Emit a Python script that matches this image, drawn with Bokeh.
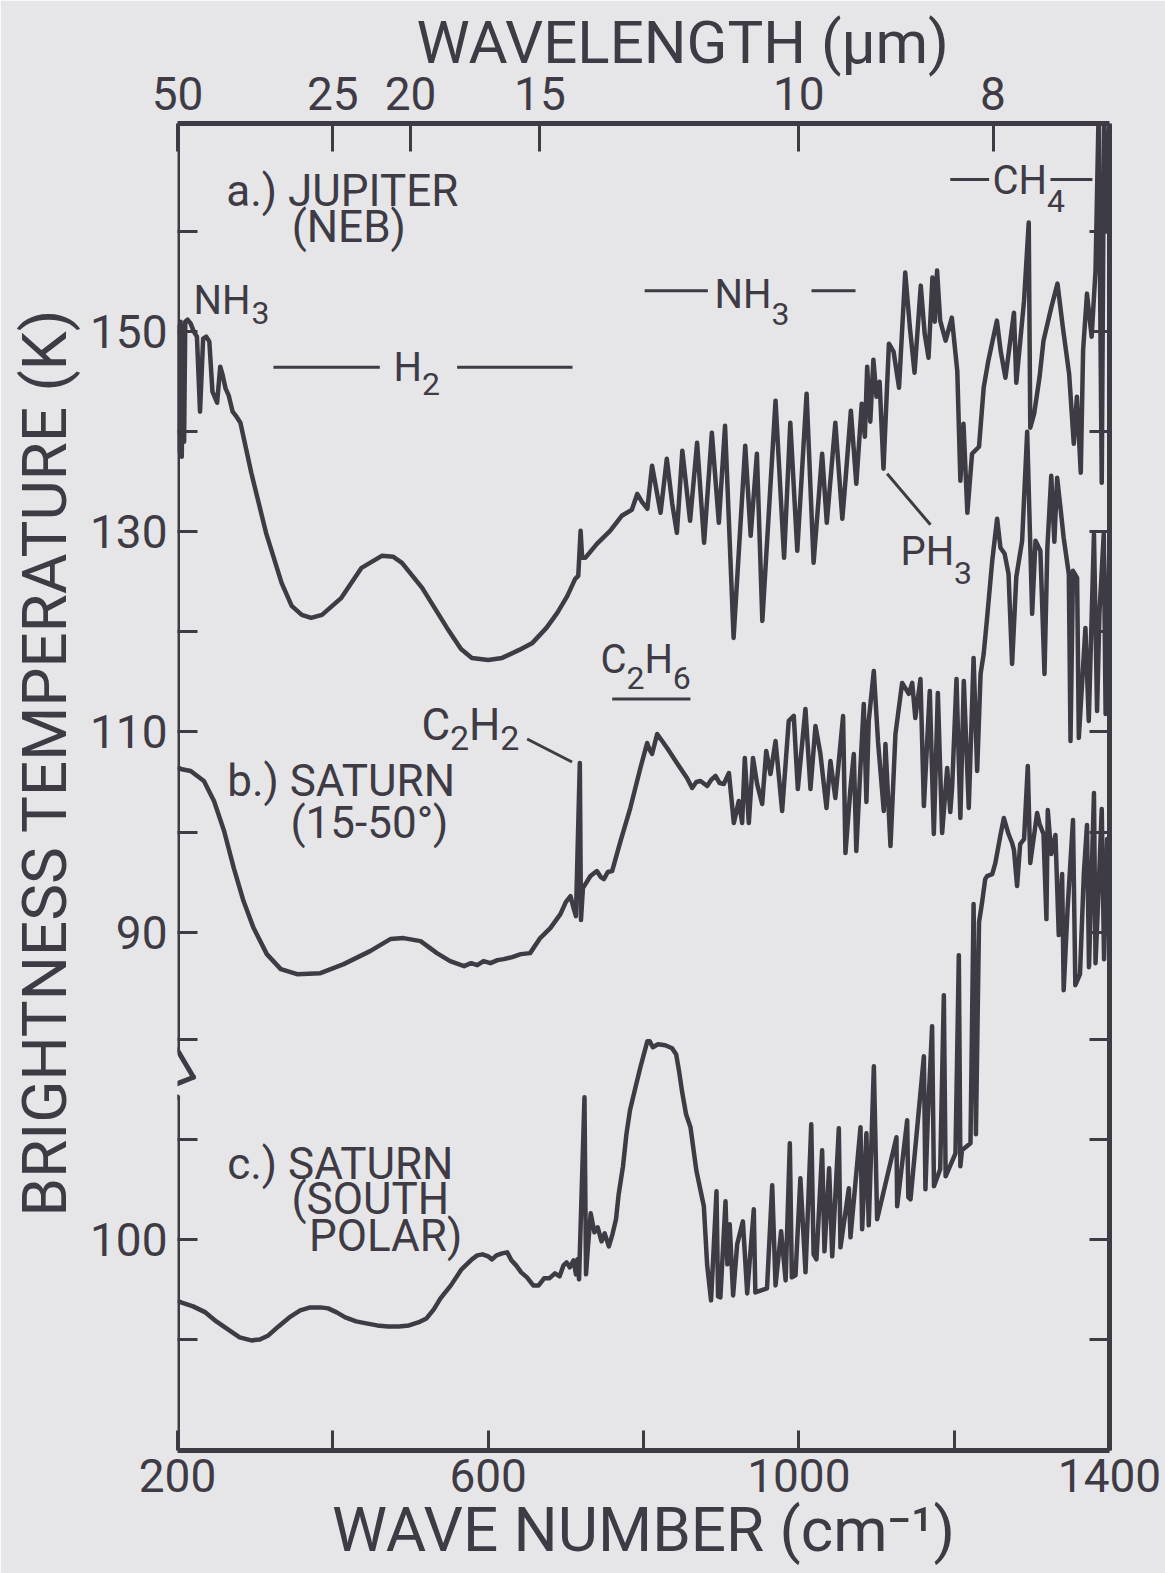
import math
from bokeh.plotting import figure
from bokeh.models import (Range1d, LinearAxis, FixedTicker, Arrow, Title,
                          ColumnDataSource)
from bokeh.core.properties import value
from bokeh.embed import file_html
from bokeh.resources import INLINE

# ---------------------------------------------------------------- data
# wave number (cm^-1), brightness temperature (K)
JUPITER_NEB = [
    (200, 141), (201, 150.5), (202.5, 138), (204, 151), (205.5, 137.5),
    (207, 150.5), (208.5, 139), (210, 151), (213, 151.2), (217, 150.8),
    (221, 150), (225, 149.5), (229, 142), (233, 149.3), (237, 149.5),
    (241, 149), (245, 144), (251, 142.9), (255, 146.5), (258, 145.7),
    (262, 144.3), (266, 143.6), (271, 142), (276, 141.5), (281, 140.9),
    (295, 135.9), (314, 129.9), (334, 124.9), (347, 122.6), (360, 121.7),
    (372, 121.4), (386, 121.7), (411, 123.4), (437, 126.4), (463, 127.6),
    (478, 127.5), (489, 126.9), (515, 124.4), (547, 120.4), (565, 118.3),
    (579, 117.4), (600, 117.2), (618, 117.4), (640, 118.2), (657, 118.9),
    (675, 120.4), (689, 121.9), (702, 123.6), (712, 125.3), (716, 125.6),
    (719, 130.1), (721, 127.4), (725, 127.4), (740, 128.8), (757, 130.1),
    (772, 131.6), (785, 132.2), (792, 133.8), (798, 133.0), (805, 132.3),
    (811, 136.6), (822, 131.9), (830, 137.3), (837, 132.8), (843, 129.9),
    (850, 138.1), (860, 131.1), (869, 138.9), (878, 128.9), (888, 139.9),
    (897, 130.9), (905, 140.6), (916, 119.4), (931, 138.6), (938, 129.6),
    (946, 137.8), (953, 121.1), (970, 143.1), (981, 127.4), (989, 140.9),
    (998, 128.1), (1010, 143.8), (1019, 126.9), (1030, 137.8), (1036, 130.9),
    (1047, 140.9), (1056, 131.3), (1060, 135.1), (1067, 142.1), (1074, 134.8),
    (1081, 142.8), (1085, 139.5), (1088, 146.5), (1092, 141), (1096, 147.2),
    (1100, 143.5), (1104, 145), (1109, 136.3), (1116, 148.8), (1122, 148.0),
    (1129, 144.4), (1137, 155.9), (1143, 150.4), (1149, 145.9), (1157, 154.6),
    (1162, 149.8), (1167, 147.4), (1172, 155.4), (1175, 151.0), (1178, 156.1),
    (1182, 151.1), (1189, 149.1), (1197, 151.4), (1204, 146.1), (1208, 135.1),
    (1212, 140.8), (1217, 131.9), (1223, 137.8), (1232, 138.5), (1238, 144.4),
    (1244, 147.1), (1255, 151.1), (1260, 148.0), (1266, 145.4), (1277, 151.9),
    (1280, 144.9), (1290, 153.1), (1296, 160.9), (1298, 140.4), (1303, 141.8),
    (1310, 145.5), (1315, 149.1), (1325, 152.4), (1333, 154.8), (1340, 150.4),
    (1348, 145.8), (1354, 138.8), (1358, 143.5), (1363, 135.9), (1366, 148.1),
    (1371, 153.8), (1377, 149.5), (1382, 156.1), (1386, 172), (1390, 134.9),
    (1393, 172), (1397, 160), (1400, 172),
]

SATURN_15_50 = [
    (200, 106.5), (204, 106.3), (217, 106.1), (234, 105.1), (247, 103.1),
    (260, 100.1), (272.5, 96.4), (285, 93.1), (298, 90.4), (315, 87.8),
    (333, 86.3), (354, 85.8), (384, 85.9), (414, 86.8), (448, 88.1),
    (474, 89.3), (491, 89.4), (513, 89.1), (534, 87.9), (551, 87.1),
    (569, 86.6), (578, 86.9), (586, 86.7), (594, 87.1), (603, 86.9),
    (612, 87.2), (620, 87.3), (631, 87.5), (642, 87.8), (654, 87.9),
    (667, 89.4), (680, 90.4), (693, 91.8), (700, 93.0), (706, 93.6),
    (710, 92.4), (713, 91.6), (718, 106.9), (719.5, 91.2), (722, 94.4),
    (731.7, 95.6), (740, 96.1), (745, 95.5), (749, 95.3), (754, 96.0),
    (759.6, 96.1), (770.4, 99.1), (783, 102.4), (796, 106.4), (804.7, 108.9),
    (808, 108.2), (811, 107.8), (817.6, 109.8), (830.4, 108.4), (843, 106.9),
    (856, 105.4), (862.6, 104.4), (868, 105.0), (873.4, 105.1), (882, 104.6),
    (887, 105.2), (892.7, 105.6), (898, 104.9), (903.4, 104.8), (910, 105.9),
    (916.3, 100.9), (922.7, 103.1), (927, 100.9), (930.4, 107.4), (935.6, 100.9),
    (941, 107.4), (946.3, 104.8), (952.8, 102.8), (958, 108.1), (963.5, 105.8),
    (970, 109.1), (978.5, 102.1), (987, 111.1), (993.5, 111.6), (998.7, 104.3),
    (1008.5, 112.3), (1015, 104.3), (1021.4, 110.6), (1027.8, 107.8),
    (1035.6, 102.4), (1040.7, 107.1), (1047, 103.4), (1057, 111.6), (1060, 97.9),
    (1066.5, 104.4), (1070.8, 107.8), (1074, 98.1), (1079, 106), (1083.6, 112.8),
    (1087, 103), (1090, 111.1), (1096.5, 116.1), (1102, 109), (1109.4, 102.1),
    (1111.5, 108.8), (1118, 98.6), (1124.4, 109.8), (1133, 114.9),
    (1141.6, 113.8), (1146, 114.9), (1150, 111.4), (1156.6, 115.3), (1161, 102.6),
    (1168.6, 114.1), (1173.8, 99.8), (1179, 113.9), (1184.5, 99.9), (1191, 106.4),
    (1195, 102), (1197.4, 104.5), (1203, 115.3), (1208, 101.4), (1212.4, 115.1),
    (1218.8, 102.4), (1225, 117.4), (1229.6, 106.1), (1234, 115.8), (1238, 117.8),
    (1242.4, 121.4), (1249, 127.1), (1255.3, 131.3), (1259.6, 128.4),
    (1265, 127.8), (1270, 125.8), (1274.6, 116.8), (1280, 125.5), (1287.5, 129.1),
    (1294, 140), (1300.4, 121.8), (1304.7, 129.1), (1311, 128.1), (1316.3, 115.8),
    (1320, 128.4), (1325, 135.6), (1329, 129), (1332.6, 135.4), (1337, 132.3),
    (1341, 129.4), (1347.6, 125.8), (1349.8, 109.1), (1353, 126.1),
    (1358.3, 125.4), (1360.5, 109.4), (1369, 120.4), (1373.3, 111.1),
    (1380, 129.8), (1384, 112.1), (1387, 121.8), (1392.6, 129.8), (1395, 111.8),
    (1400, 129),
]

# read on the lower (broken) temperature scale
SATURN_SOUTH_POLAR = [
    (200, 93.9), (204.5, 93.7), (220, 93.3), (236, 92.7), (250, 91.8),
    (263, 91.1), (280, 90.2), (295, 89.9), (306, 90.0), (317, 90.4),
    (330, 91.3), (344, 92.2), (358, 92.9), (371, 93.2), (384, 93.2),
    (394, 93.1), (405, 92.7), (416, 92.2), (430, 91.8), (443, 91.6),
    (457, 91.4), (471, 91.3), (485, 91.3), (498, 91.4), (510, 91.7),
    (520.6, 92.1), (530, 93.0), (538.6, 94.1), (552, 95.4), (565.7, 97.0),
    (579, 98.0), (586, 98.4), (592.7, 98.5), (600, 98.3), (605, 98.0),
    (610.7, 98.4), (618, 98.6), (624.5, 98.7), (630, 97.9), (636, 97.4),
    (642.5, 96.7), (650, 96.2), (658, 95.4), (665, 95.4), (672, 96.1),
    (678.7, 96.1), (686, 96.6), (692, 96.3), (697, 97.4), (701, 97.7),
    (705, 97.2), (710, 97.9), (713, 96.5), (715, 98.0), (717, 96.0),
    (724, 114.2), (726, 96.5), (728.5, 99.3), (732, 102.6), (736.8, 100.7),
    (741, 101.2), (746, 99.8), (750, 100.6), (755.4, 99.3), (760, 100.5),
    (764.6, 102.0), (768, 104.5), (773.6, 107.3), (778, 110.5), (782.6, 112.9),
    (790, 115.3), (796, 117.2), (805, 119.8), (808, 119.8), (812, 119.2),
    (818.6, 119.5), (828, 119.4), (836.8, 119.1), (842, 118.5), (845.8, 116.8),
    (850, 114.6), (854.8, 112.5), (860.5, 111.2), (868, 106.9), (877.7, 103.3),
    (882, 97.4), (887, 93.9), (894, 104.8), (896, 94.3), (899, 94.2),
    (905.6, 103.8), (908, 97.5), (911, 101.5), (915.4, 94.4), (920.6, 99.5),
    (928, 101.8), (933.5, 94.6), (942, 103.0), (944, 94.7), (959, 95.1),
    (965.7, 105.4), (970, 95.4), (977.2, 100.8), (983, 95.9), (988.4, 109.6),
    (991, 96.2), (995.7, 96.4), (1002, 106.1), (1008.6, 96.7), (1016, 111.5),
    (1019, 98.5), (1022.7, 98.0), (1030, 108.9), (1033, 98.8), (1039, 107.1),
    (1043, 98.3), (1051.5, 111.1), (1053.6, 99.2), (1064.4, 105.1),
    (1066.5, 100.2), (1079.4, 111.2), (1081.5, 101.0), (1087, 110.6),
    (1090, 101.4), (1096.6, 117.3), (1100.8, 102.0), (1125.7, 110.2),
    (1126.6, 103.3), (1139.5, 111.9), (1141, 104.2), (1143.8, 104.0),
    (1161, 118.3), (1163, 105.0), (1166, 112), (1171.6, 121.3), (1174, 105.3),
    (1182, 107), (1186.7, 124.4), (1189, 106.3), (1201.7, 108.6), (1206, 128.4),
    (1208, 107.3), (1210, 108.9), (1221, 109.6), (1225, 133.5), (1228, 110.5),
    (1232, 131.7), (1236, 133.7), (1240, 136.0), (1242.4, 136.3), (1249, 136.5),
    (1253, 137.6), (1259.6, 140.4), (1264, 142.1), (1270, 140.5),
    (1274.6, 139.6), (1277, 138.9), (1281, 135.3), (1285, 139.5), (1290, 140),
    (1294.8, 147.3), (1298, 137.6), (1306.8, 142.6), (1310, 141.5),
    (1315, 140.5), (1318.8, 132), (1320.5, 142.9), (1325, 138.5),
    (1330.4, 140.4), (1334.7, 130.4), (1339, 136.5), (1341, 124.9), (1346, 133),
    (1353, 141.9), (1356, 125.4), (1362, 126.5), (1367, 136.6), (1371, 141.4),
    (1373.6, 127.2), (1380, 144.6), (1382, 127.6), (1386, 135), (1390, 143),
    (1393, 128), (1397, 140), (1400, 134),
]

# lower temperature scale is shifted by this many kelvin on the page
LOWER_OFFSET = 40.7

WAVENUMBER_TICKS = [200, 400, 600, 800, 1000, 1200, 1400]
WAVENUMBER_LABELLED = [200, 600, 1000, 1400]
WAVELENGTH_TICKS_UM = [50, 25, 20, 15, 10, 8]
UPPER_T_TICKS = [90, 100, 110, 120, 130, 140, 150, 160]
UPPER_T_LABELLED = [90, 110, 130, 150]
LOWER_T_TICKS = [90, 100, 110, 120]
LOWER_T_LABELLED = [100]

# panel captions: text, wave number (left), temperature (baseline, page scale)
PANEL_LABELS = [
    ("a.) JUPITER", 262.8, 162.6),
    ("(NEB)", 347.0, 159.0),
    ("b.) SATURN", 264.0, 103.6),
    ("(15-50°)", 345.5, 99.4),
    ("c.) SATURN", 264.0, 65.3),
    ("(SOUTH", 346.8, 61.8),
    ("POLAR)", 369.3, 58.1),
]
# molecule labels: text, wave number (left), temperature (baseline), size px
MOLECULE_TEXT = [
    ("NH", 220.6, 151.8, 40), ("3", 295.3, 150.8, 32),
    ("H", 478.1, 145.1, 40), ("2", 514.8, 143.7, 32),
    ("NH", 891.4, 152.4, 40), ("3", 964.8, 150.7, 32),
    ("CH", 1249.3, 163.7, 40), ("4", 1319.4, 162.0, 32),
    ("PH", 1130.9, 126.7, 40), ("3", 1199.9, 124.8, 32),
    ("C", 514.2, 109.2, 44), ("2", 551.0, 108.2, 34),
    ("H", 575.4, 109.2, 44), ("2", 615.6, 108.2, 34),
    ("C", 744.6, 115.9, 40), ("2", 778.0, 114.3, 32),
    ("H", 801.3, 115.9, 40), ("6", 837.8, 114.3, 32),
]
PANEL_FONT_PX = 44
# band bars and leader lines: x0, y0, x1, y1
MOLECULE_LINES = [
    (323.6, 146.45, 460.5, 146.45), (560.0, 146.45, 708.6, 146.45),   # H2
    (801.5, 154.1, 882.9, 154.1), (1016.3, 154.1, 1073.0, 154.1),     # NH3
    (1195.0, 165.2, 1245.0, 165.2), (1324.0, 165.2, 1378.0, 165.2),   # CH4
    (1113.7, 135.8, 1169.5, 130.7),                                   # PH3
    (650.2, 109.3, 708.0, 107.0),                                     # C2H2
    (759.7, 113.3, 860.4, 113.3),                                     # C2H6
]
# broken left axis (zig-zag between the two temperature scales)
LEFT_AXIS_PATH = [(200, 170.8), (200, 78.2), (220.6, 75.5), (184.5, 74.4),
                  (200, 73.5), (200, 38.2)]

X_RANGE = (200, 1400)
Y_RANGE = (38.2, 170.8)
PX_PER_K = 10.0
BASELINE_SHIFT = 0.34   # glyph text is placed this fraction of its size low

# ---------------------------------------------------------------- style
INK = "#3e3b45"
BG = "#e6e6e8"
FONT = "Roboto"

p = figure(width=1165, height=1573, output_backend="svg", toolbar_location=None,
           x_range=Range1d(*X_RANGE), y_range=Range1d(*Y_RANGE),
           x_axis_location=None, y_axis_location=None,
           min_border_left=177, min_border_right=56,
           min_border_top=123, min_border_bottom=123)
p.background_fill_color = BG
p.border_fill_color = BG
p.outline_line_color = None
p.xgrid.visible = False
p.ygrid.visible = False


def style_axis(ax, tick_in, line=True):
    ax.axis_line_color = INK if line else None
    ax.axis_line_width = 5
    for kind in ("major", "minor"):
        setattr(ax, f"{kind}_tick_line_color", INK)
        setattr(ax, f"{kind}_tick_line_width", 3)
        setattr(ax, f"{kind}_tick_in", tick_in)
        setattr(ax, f"{kind}_tick_out", 0)
    ax.major_label_text_font = FONT
    ax.major_label_text_font_size = "46px"
    ax.major_label_text_color = INK


# bottom: wave number
bottom = LinearAxis(ticker=FixedTicker(
    ticks=WAVENUMBER_LABELLED,
    minor_ticks=[t for t in WAVENUMBER_TICKS if t not in WAVENUMBER_LABELLED]))
style_axis(bottom, 20)
bottom.major_label_standoff = 8
p.add_layout(bottom, "below")

# top: wavelength
wl_pos = [1e4 / um for um in WAVELENGTH_TICKS_UM]
top = LinearAxis(ticker=FixedTicker(ticks=wl_pos, minor_ticks=[]))
top.major_label_overrides = {1e4 / um: str(um) for um in WAVELENGTH_TICKS_UM}
style_axis(top, 28)
top.major_label_standoff = 14
p.add_layout(top, "above")

# left / right: two temperature scales
all_t = UPPER_T_TICKS + [t - LOWER_OFFSET for t in LOWER_T_TICKS]
lab_t = UPPER_T_LABELLED + [t - LOWER_OFFSET for t in LOWER_T_LABELLED]
left = LinearAxis(ticker=FixedTicker(
    ticks=lab_t, minor_ticks=[t for t in all_t if t not in lab_t]))
left.major_label_overrides = {t - LOWER_OFFSET: str(t) for t in LOWER_T_LABELLED}
style_axis(left, 20, line=False)
left.major_label_standoff = 10
p.add_layout(left, "left")

right = LinearAxis(ticker=FixedTicker(ticks=[], minor_ticks=all_t))
style_axis(right, 20)
p.add_layout(right, "right")

for (x0, y0), (x1, y1) in zip(LEFT_AXIS_PATH[:-1], LEFT_AXIS_PATH[1:]):
    p.add_layout(Arrow(end=None, x_start=x0, y_start=y0, x_end=x1, y_end=y1,
                       line_color=INK, line_width=5, line_cap="round"))

# axis titles
p.add_layout(Title(text="WAVELENGTH (μm)", align="left", offset=239,
                   standoff=-8, text_font=FONT, text_font_size="60px",
                   text_font_style="normal", text_color=INK), "above")
p.add_layout(Title(text="WAVE NUMBER (cm⁻¹)", align="center",
                   standoff=-8, text_font=FONT, text_font_size="62px",
                   text_font_style="normal", text_color=INK), "below")
p.add_layout(Title(text="BRIGHTNESS TEMPERATURE (K)", align="left", offset=234,
                   standoff=11, text_font=FONT, text_font_size="62px",
                   text_font_style="normal", text_color=INK), "left")

# ---------------------------------------------------------------- spectra
for series, shift in ((JUPITER_NEB, 0.0), (SATURN_15_50, 0.0),
                      (SATURN_SOUTH_POLAR, LOWER_OFFSET)):
    xs = [w for w, _ in series]
    ys = [t - shift for _, t in series]
    p.line(xs, ys, line_color=INK, line_width=4.5, line_join="round")

# ---------------------------------------------------------------- labels
def lift(t, size_px):
    return t + BASELINE_SHIFT * size_px / PX_PER_K


panel_src = ColumnDataSource(dict(
    x=[l[1] for l in PANEL_LABELS],
    y=[lift(l[2], PANEL_FONT_PX) for l in PANEL_LABELS],
    text=[l[0] for l in PANEL_LABELS]))
p.text(x="x", y="y", text="text", source=panel_src, text_font=value(FONT),
       text_font_size=f"{PANEL_FONT_PX}px", text_color=INK, text_align="left",
       text_baseline="alphabetic")

mol_src = ColumnDataSource(dict(
    x=[m[1] for m in MOLECULE_TEXT],
    y=[lift(m[2], m[3]) for m in MOLECULE_TEXT],
    text=[m[0] for m in MOLECULE_TEXT],
    size=[f"{m[3]}px" for m in MOLECULE_TEXT]))
p.text(x="x", y="y", text="text", source=mol_src, text_font=value(FONT),
       text_font_size="size", text_color=INK, text_align="left",
       text_baseline="alphabetic")

p.segment(x0=[l[0] for l in MOLECULE_LINES], y0=[l[1] for l in MOLECULE_LINES],
          x1=[l[2] for l in MOLECULE_LINES], y1=[l[3] for l in MOLECULE_LINES],
          line_color=INK, line_width=3)

open("out.html", "w").write(file_html(p, INLINE))
